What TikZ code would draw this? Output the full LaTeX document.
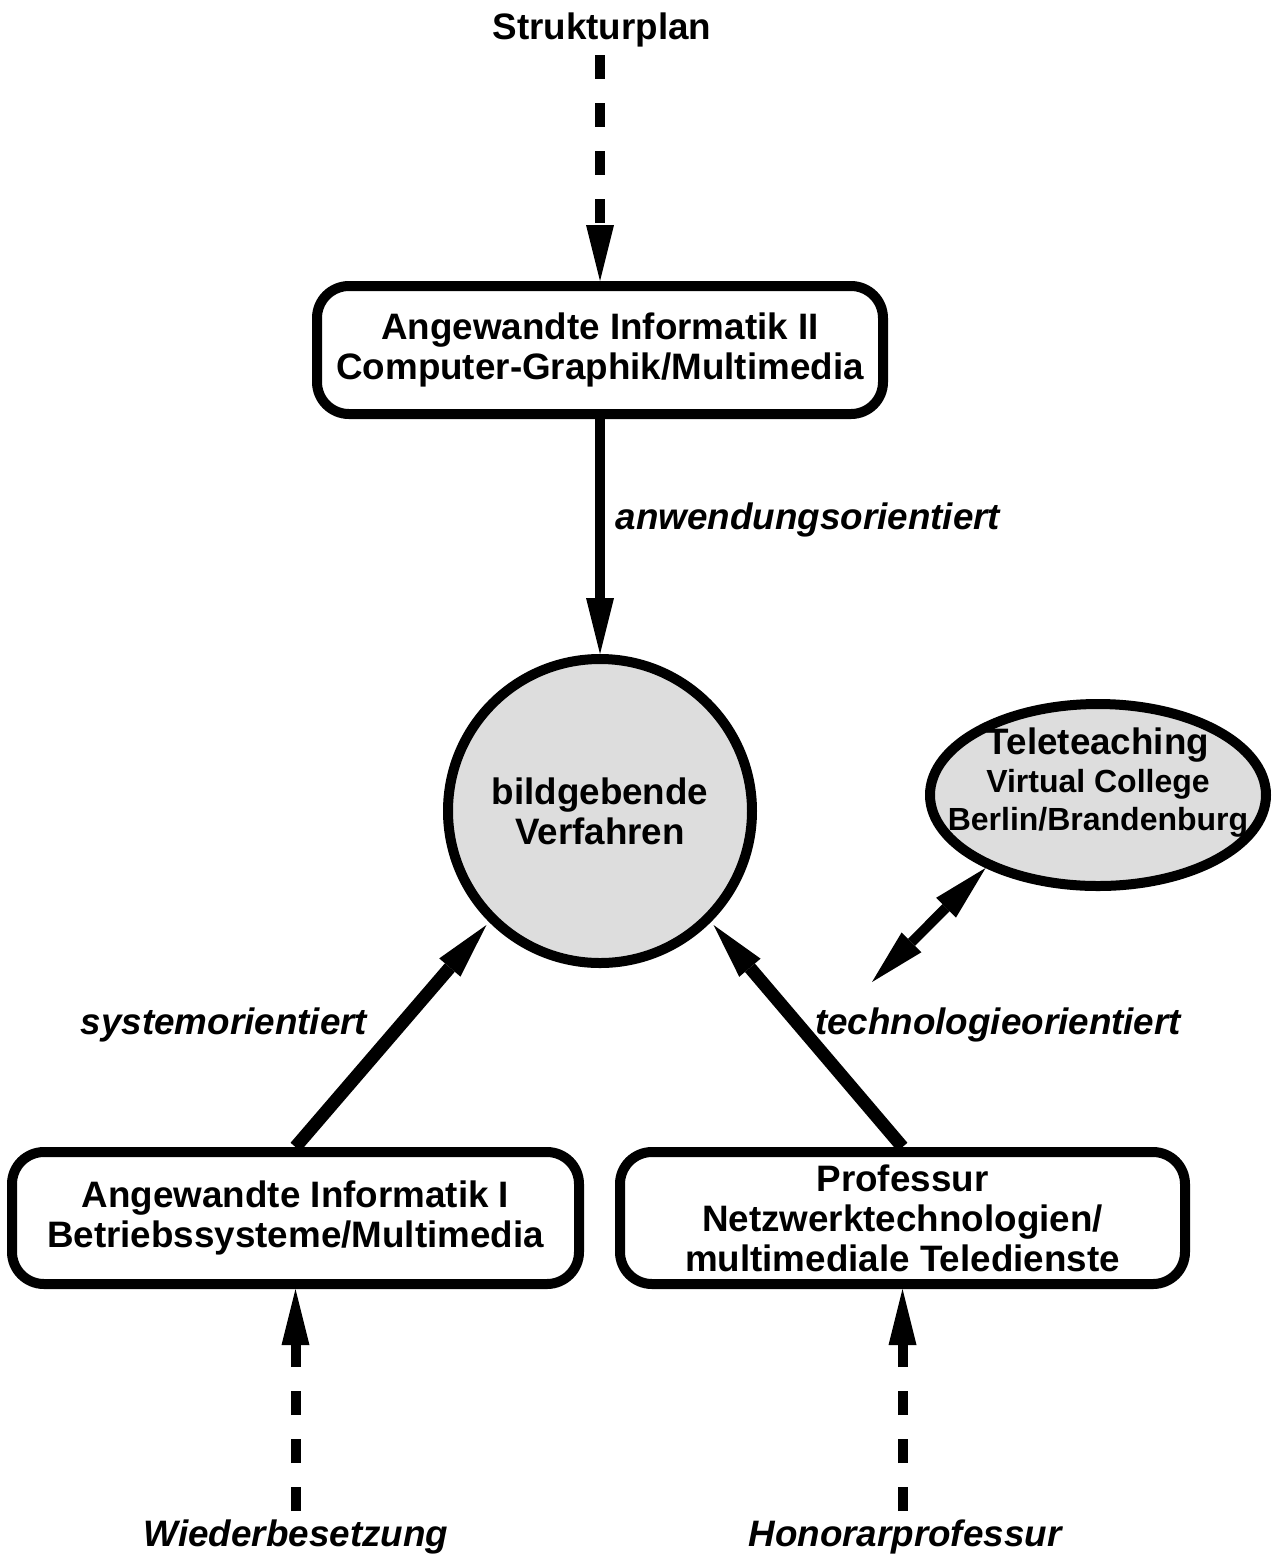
\documentclass[tikz,border=0pt]{standalone}
\usepackage{fontspec}
\setmainfont{Liberation Sans}
\usetikzlibrary{shapes,arrows.meta,positioning}
\definecolor{lightfill}{HTML}{DDDDDD}
\def\fs{\fontsize{18.4}{20}\selectfont}
\def\smallfs{\fontsize{16}{18.5}\selectfont}
\tikzstyle{unit} = [draw,line width=5pt,rectangle,rounded corners=16pt,inner sep=0,align=center,fill=white]
\tikzstyle{topic} = [draw,line width=5pt,circle,fill=lightfill,inner sep=0,align=center]
\tikzstyle{guest} = [draw,line width=5pt,ellipse,fill=lightfill,inner sep=0]
\tikzstyle{flow} = [->,line width=5pt]
\tikzstyle{mainflow} = [->,line width=6.5pt,shorten >=2pt]
\tikzstyle{plan} = [->,line width=5pt,dash pattern=on 12pt off 12pt]
\tikzstyle{twoway} = [<->,line width=5pt]
\tikzstyle{note} = [font=\fs\bfseries\itshape]

\begin{document}
\begin{tikzpicture}[x=0.5pt,y=-0.5pt,font=\fs\bfseries,
    >={Triangle[length=28pt,width=14pt,line width=0pt]}]
  \useasboundingbox (0,0) rectangle (1276,1555);
  % units
  \node (plan) at (602,30) {Strukturplan};
  \node[unit,minimum width=283pt,minimum height=64pt] (ai2) at (600,350) {Angewandte Informatik II\\Computer-Graphik/Multimedia};
  \node[topic,minimum size=152pt] (bild) at (600,811) {bildgebende\\Verfahren};
  \node[guest,minimum width=168pt,minimum height=91pt] (tele) at (1098,795) {};
  \node[align=center,font=\fontsize{18.4}{19}\selectfont\bfseries] (teletext) at (1098,783) {Teleteaching\\{\smallfs Virtual College}\\{\smallfs Berlin/Brandenburg}};
  \node[unit,minimum width=283.5pt,minimum height=66pt] (ai1) at (295.5,1218) {Angewandte Informatik I\\Betriebssysteme/Multimedia};
  \node[unit,minimum width=282.5pt,minimum height=66pt] (prof) at (902.5,1218) {Professur\\Netzwerktechnologien/\\multimediale Teledienste};
  % labels
  \node[note] (anw) at (808,520) {anwendungsorientiert};
  \node[note] (sys) at (224,1025) {systemorientiert};
  \node[note] (tech) at (998,1025) {technologieorientiert};
  \node[note] (wied) at (296,1537) {Wiederbesetzung};
  \node[note] (hon) at (905,1537) {Honorarprofessur};
  \coordinate (planEnd) at (600,55);
  \coordinate (wiedEnd) at (295.5,1511);
  \coordinate (honEnd) at (902.5,1511);
  \coordinate (teleEnd) at (872,982);
  % connectors
  \draw[plan] (planEnd) -- (ai2.north);
  \draw[flow] (ai2.south) -- (bild.north);
  \draw[mainflow] (ai1.north) -- (bild.225);
  \draw[mainflow] (prof.north) -- (bild.-45);
  \draw[twoway] (teleEnd) -- (tele.213);
  \draw[plan] (wiedEnd) -- (ai1.south);
  \draw[plan] (honEnd) -- (prof.south);
\end{tikzpicture}
\end{document}
